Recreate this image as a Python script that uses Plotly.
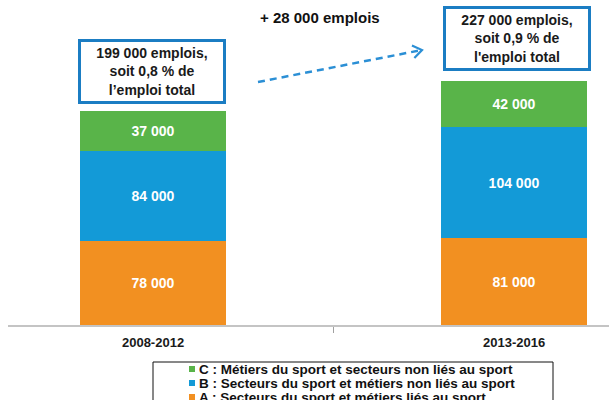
import plotly.graph_objects as go

# ---- data ----
categories = ["2008-2012", "2013-2016"]
series_names = [
    "A : Secteurs du sport et métiers liés au sport",
    "B : Secteurs du sport et métiers non liés au sport",
    "C : Métiers du sport et secteurs non liés au sport",
]
values_A = [78000, 81000]
values_B = [84000, 104000]
values_C = [37000, 42000]
value_labels_A = ["78 000", "81 000"]
value_labels_B = ["84 000", "104 000"]
value_labels_C = ["37 000", "42 000"]
box_texts = [
    "199 000 emplois,<br>soit 0,8 % de<br>l’emploi total",
    "227 000 emplois,<br>soit 0,9 % de<br>l'emploi total",
]
growth_text = "+ 28 000 emplois"

colors = ["#F29021", "#139AD7", "#59B449"]
box_color = "#1B7DC3"
arrow_color = "#2B8FD5"
FONT = "Liberation Sans, Arial, sans-serif"

# ---- geometry helpers (page pixels -> paper) ----
L, W, T, H = 8, 601, 0, 325
def px(x):
    return (x - L) / W
def py(y):
    return (T + H - y) / H

fig = go.Figure()
for name, vals, labs, col in zip(
    series_names,
    [values_A, values_B, values_C],
    [value_labels_A, value_labels_B, value_labels_C],
    colors,
):
    fig.add_trace(go.Bar(
        x=categories, y=vals, name=name, text=labs,
        textposition="inside", insidetextanchor="middle",
        textfont=dict(family=FONT, size=14, color="white", weight="bold"),
        marker=dict(color=col, line=dict(width=0)),
        width=0.402, showlegend=False, hoverinfo="skip",
    ))

totals = [a + b + c for a, b, c in zip(values_A, values_B, values_C)]

# total boxes above bars
for i, (cat, tot, txt) in enumerate(zip(categories, totals, box_texts)):
    fig.add_annotation(
        x=cat, y=tot, xref="x", yref="y", text=txt, showarrow=False,
        yanchor="bottom", xanchor="center",
        yshift=7 if i == 0 else 10, xshift=-1 if i == 0 else 3,
        width=140, height=57, borderpad=1,
        bordercolor=box_color, borderwidth=3, bgcolor="white",
        font=dict(family=FONT, size=14, color="#1a1a1a", weight="bold"),
        align="center",
    )

# growth text
fig.add_annotation(
    x=px(320), y=py(18), xref="paper", yref="paper", text=growth_text,
    showarrow=False, xanchor="center", yanchor="middle",
    font=dict(family=FONT, size=15, color="#111111", weight="bold"),
)

# dashed arrow
x0, y0, x1, y1 = 258, 82, 422, 50
fig.add_shape(type="line", xref="paper", yref="paper",
              x0=px(x0), y0=py(y0), x1=px(x1 - 2), y1=py(y1 + 0.4),
              line=dict(color=arrow_color, width=2.5, dash="7px,5px"))
import math
dx, dy = x1 - x0, y1 - y0
ln = math.hypot(dx, dy)
ux, uy = dx / ln, dy / ln
arm = 11
pts = []
for ang in (math.radians(35), -math.radians(35)):
    ca, sa = math.cos(ang), math.sin(ang)
    bx = -(ux * ca - uy * sa)
    by = -(ux * sa + uy * ca)
    pts.append((x1 + arm * bx, y1 + arm * by))
path = "M {} {} L {} {} L {} {}".format(
    px(pts[0][0]), py(pts[0][1]), px(x1), py(y1), px(pts[1][0]), py(pts[1][1]))
fig.add_shape(type="path", xref="paper", yref="paper", path=path,
              line=dict(color=arrow_color, width=2.2))

# legend (manual, reversed order C, B, A)
fig.add_shape(type="rect", xref="paper", yref="paper",
              x0=px(153), x1=px(553), y0=py(362), y1=py(430),
              line=dict(color="#111111", width=1), fillcolor="white", layer="above")
leg_y = [369, 383, 397]
for yy, name, col in zip(leg_y, series_names[::-1], colors[::-1]):
    fig.add_shape(type="rect", xref="paper", yref="paper",
                  x0=px(189), x1=px(195), y0=py(yy + 3), y1=py(yy - 3),
                  line=dict(width=0), fillcolor=col, layer="above")
    fig.add_annotation(
        x=px(197), y=py(yy), xref="paper", yref="paper", text=name,
        showarrow=False, xanchor="left", yanchor="middle",
        font=dict(family=FONT, size=13.5, color="#111111", weight="bold"),
    )

fig.update_layout(
    width=609, height=400,
    margin=dict(l=L, r=0, t=T, b=400 - H - T),
    paper_bgcolor="white", plot_bgcolor="white",
    barmode="stack", bargap=0,
    xaxis=dict(
        type="category", range=[-0.4017, 1.263],
        showline=True, linecolor="#C4C4C4", linewidth=2,
        ticks="outside", tickson="boundaries", ticklen=6,
        tickcolor="#A0A0A0", tickwidth=1, showgrid=False,
        tickfont=dict(family=FONT, size=13, color="#1a1a1a", weight="bold"),
        ticklabelstandoff=4, fixedrange=True,
    ),
    yaxis=dict(range=[0, 302900], visible=False, showgrid=False, fixedrange=True),
    showlegend=False,
)

fig.write_html("out.html")
